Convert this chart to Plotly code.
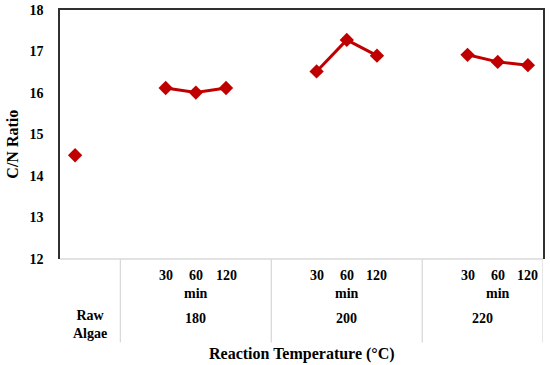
import plotly.graph_objects as go

# ---- data ----
group_labels = ["Raw<br>Algae", "180", "200", "220"]
time_labels = ["30", "60", "120"]
raw_algae_cn = [14.5]
cn_180 = [16.12, 16.01, 16.12]
cn_200 = [16.52, 17.28, 16.90]
cn_220 = [16.92, 16.75, 16.67]
y_ticks = [12, 13, 14, 15, 16, 17, 18]

# ---- layout helpers (category slots like an Excel multi-level axis) ----
group_slots = [2, 5, 5, 4]          # number of category slots per group
first_point_slot = [0, 1, 1, 1]     # slot of the first point inside the group
series = [raw_algae_cn, cn_180, cn_200, cn_220]

RED = "#C00000"
FONT = "Liberation Serif, Times New Roman, serif"
GRID = "#D9D9D9"
DARK = "#303030"
LBL = dict(family=FONT, size=14, color="#000", weight="bold")

fig = go.Figure()
annotations = []
shapes = []

start = 0
for gi, vals in enumerate(series):
    xs = [start + first_point_slot[gi] + k + 0.5 for k in range(len(vals))]
    fig.add_trace(go.Scatter(
        x=xs, y=vals, mode="lines+markers",
        line=dict(color=RED, width=3),
        marker=dict(symbol="diamond", size=11, color=RED),
        showlegend=False, hoverinfo="skip", cliponaxis=False))
    gcenter = start + group_slots[gi] / 2
    annotations.append(dict(x=gcenter, y=-0.265 if gi == 0 else -0.237,
                            xref="x", yref="paper", text=group_labels[gi],
                            showarrow=False, yanchor="middle", font=LBL))
    if gi > 0:
        for k, t in enumerate(time_labels):
            annotations.append(dict(x=xs[k], y=-0.068, xref="x", yref="paper", text=t,
                                    showarrow=False, yanchor="middle", font=LBL))
        annotations.append(dict(x=xs[1], y=-0.137, xref="x", yref="paper", text="min",
                                showarrow=False, yanchor="middle", font=LBL))
    start += group_slots[gi]
    # group divider line below the plot
    shapes.append(dict(type="line", xref="x", yref="paper", x0=start, x1=start,
                       y0=0, y1=-0.335, line=dict(color=GRID, width=1.3)))

total_slots = sum(group_slots)

# bottom (category) axis line: light grey
shapes.append(dict(type="line", xref="paper", yref="paper", x0=0, x1=1, y0=0, y1=0,
                   line=dict(color=GRID, width=1.3)))

annotations.append(dict(x=0.5, y=-0.38, xref="paper", yref="paper",
                        text="Reaction Temperature (°C)", showarrow=False,
                        yanchor="middle",
                        font=dict(family=FONT, size=16, color="#000", weight="bold")))
annotations.append(dict(x=-0.099, y=0.46, xref="paper", yref="paper",
                        text="C/N Ratio", showarrow=False, textangle=-90,
                        xanchor="center", yanchor="middle",
                        font=dict(family=FONT, size=16, color="#000", weight="bold")))

fig.update_layout(
    width=550, height=365,
    margin=dict(l=60, r=7, t=10, b=106, autoexpand=False),
    paper_bgcolor="white", plot_bgcolor="white",
    xaxis=dict(range=[0, total_slots], showticklabels=False, showgrid=False,
               zeroline=False, showline=True, side="top", linecolor=DARK,
               linewidth=1.5, ticks="", automargin=False),
    yaxis=dict(range=[12, 18], tickvals=y_ticks, showgrid=False, zeroline=False,
               showline=True, mirror=True, linecolor=DARK, linewidth=1.5,
               ticks="", ticklabelstandoff=12, automargin=False,
               tickfont=LBL),
    shapes=shapes, annotations=annotations,
)

fig.write_html("out.html", config={"displayModeBar": False},
               post_script="document.body.style.margin='0';")
